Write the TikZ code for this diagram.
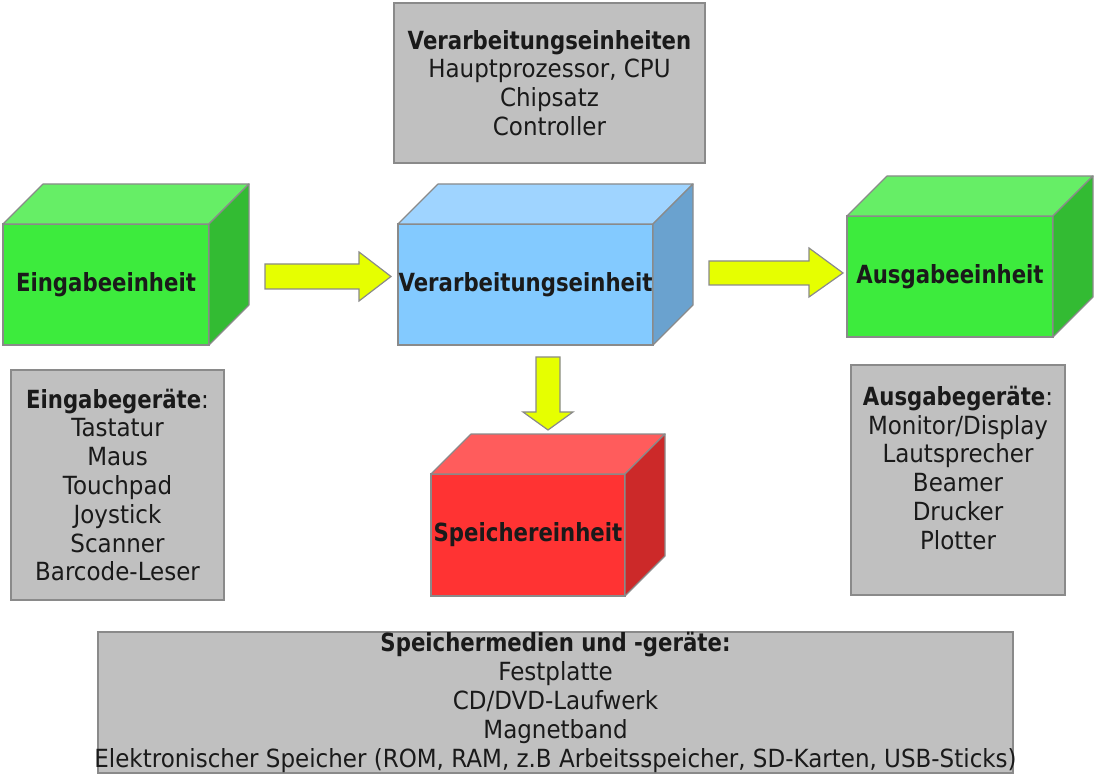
\documentclass[tikz,border=0pt]{standalone}
\usepackage{fontspec}
\setmainfont{DejaVu Sans}[FakeStretch=0.92, BoldFeatures={FakeStretch=0.85}]
\usetikzlibrary{positioning}

\definecolor{frontgreen}{HTML}{3DEB3D}
\definecolor{topgreen}{HTML}{66EE66}
\definecolor{sidegreen}{HTML}{33BB33}
\definecolor{frontblue}{HTML}{83CAFF}
\definecolor{topblue}{HTML}{9FD4FF}
\definecolor{sideblue}{HTML}{6AA2CF}
\definecolor{frontred}{HTML}{FF3333}
\definecolor{topred}{HTML}{FF5C5C}
\definecolor{sidered}{HTML}{CC2929}
\definecolor{boxgray}{HTML}{C0C0C0}
\definecolor{edgegray}{HTML}{8A8A8A}
\definecolor{arrowyellow}{HTML}{E6FF00}
\definecolor{textblack}{HTML}{1A1A1A}

\begin{document}
\begin{tikzpicture}[x=1pt, y=-1pt, line width=1.2pt, text=textblack,
                    font=\fontsize{25}{28.8}\selectfont,
                    cube/.style={rectangle, draw=edgegray, inner sep=0pt, outer sep=0pt, minimum height=121pt, font=\fontsize{25}{28.8}\selectfont\bfseries},
                    devbox/.style={rectangle, draw=edgegray, fill=boxgray, inner sep=0pt, outer sep=0pt, align=center},
                    blockarrow/.style={draw=edgegray, fill=arrowyellow, line join=miter}]

  \useasboundingbox (0,0) rectangle (1095,775);

  % einheiten
  \node[cube, fill=frontgreen, minimum width=206pt] (eingabe)      at (106,284.5) {Eingabeeinheit};
  \node[cube, fill=frontblue,  minimum width=255pt] (verarbeitung) at (525.5,284.5) {Verarbeitungseinheit};
  \node[cube, fill=frontgreen, minimum width=206pt] (ausgabe)      at (950,276.5) {Ausgabeeinheit};
  \node[cube, fill=frontred,   minimum width=194pt, minimum height=122pt] (speicher) at (528,535) {Speichereinheit};

  \foreach \n/\tc/\sc in {eingabe/topgreen/sidegreen, verarbeitung/topblue/sideblue,
                          ausgabe/topgreen/sidegreen, speicher/topred/sidered}{
    \draw[draw=edgegray, fill=\tc, line join=round] (\n.north west) -- ++(40,-40) -- ([shift={(40,-40)}]\n.north east) -- (\n.north east) -- cycle;
    \draw[draw=edgegray, fill=\sc, line join=round] (\n.north east) -- ++(40,-40) -- ([shift={(40,-40)}]\n.south east) -- (\n.south east) -- cycle;
  }

  % geraete
  \node[devbox, minimum width=311pt, minimum height=160pt] (verarbeitungsteile) at (549.5,83)
    {\textbf{Verarbeitungseinheiten}\\Hauptprozessor, CPU\\Chipsatz\\Controller};
  \node[devbox, minimum width=213pt, minimum height=230pt] (eingabegeraete) at (117.5,485)
    {\textbf{Eingabegeräte}:\\Tastatur\\Maus\\Touchpad\\Joystick\\Scanner\\Barcode-Leser};
  \node[devbox, minimum width=214pt, minimum height=230pt,
        label={[anchor=north, align=center, yshift=-17pt]north:{\textbf{Ausgabegeräte}:\\Monitor/Display\\Lautsprecher\\Beamer\\Drucker\\Plotter}}]
        (ausgabegeraete) at (958,480) {};
  \node[devbox, minimum width=915pt, minimum height=141pt] (speichermedien) at (555.5,702.5)
    {\textbf{Speichermedien und -geräte:}\\Festplatte\\CD/DVD-Laufwerk\\Magnetband\\\makebox[915pt]{Elektronischer Speicher (ROM, RAM, z.B Arbeitsspeicher, SD-Karten, USB-Sticks)}};

  % pfeile
  \draw[blockarrow] (265,264) -- (359,264) -- (359,252) -- (391,276.5) -- (359,301) -- (359,289) -- (265,289) -- cycle;
  \draw[blockarrow] (709,261) -- (809,261) -- (809,248) -- (843,273) -- (809,297) -- (809,285) -- (709,285) -- cycle;
  \draw[blockarrow] (536,357) -- (560,357) -- (560,412) -- (573,412) -- (548,430) -- (523,412) -- (536,412) -- cycle;

\end{tikzpicture}
\end{document}
